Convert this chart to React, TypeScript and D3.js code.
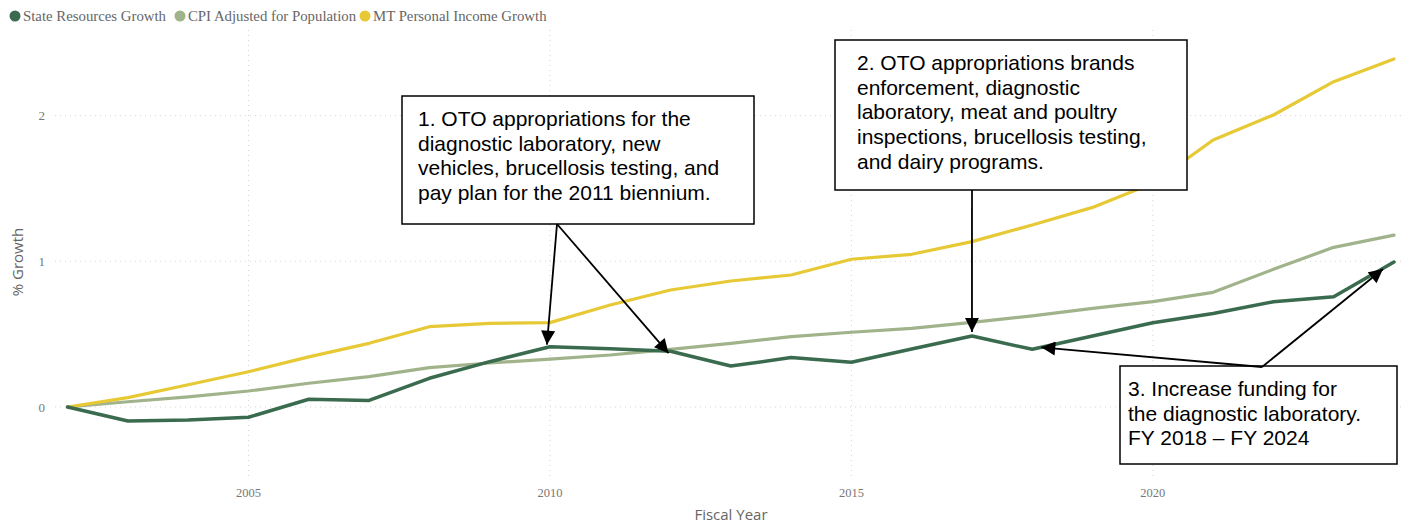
import React from "react";
import * as d3 from "d3";

const years = [2002, 2003, 2004, 2005, 2006, 2007, 2008, 2009, 2010, 2011, 2012, 2013, 2014, 2015, 2016, 2017, 2018, 2019, 2020, 2021, 2022, 2023, 2024];
const stateResources = [0, -0.096, -0.089, -0.07, 0.053, 0.045, 0.197, 0.311, 0.414, 0.40, 0.383, 0.281, 0.339, 0.307, 0.398, 0.487, 0.396, 0.487, 0.578, 0.642, 0.722, 0.757, 0.995];
const cpiAdjusted = [0, 0.036, 0.07, 0.11, 0.163, 0.208, 0.27, 0.302, 0.328, 0.357, 0.396, 0.437, 0.483, 0.513, 0.54, 0.581, 0.625, 0.677, 0.723, 0.787, 0.945, 1.096, 1.18];
const personalIncome = [0, 0.064, 0.153, 0.242, 0.344, 0.437, 0.551, 0.574, 0.579, 0.70, 0.803, 0.865, 0.906, 1.014, 1.048, 1.135, 1.249, 1.37, 1.535, 1.833, 2.004, 2.233, 2.389];

const seriesNames = ["State Resources Growth", "CPI Adjusted for Population", "MT Personal Income Growth"];
const seriesColors = ["#3a6b4f", "#a0b38b", "#e6c935"];
const xTicks = [2005, 2010, 2015, 2020];
const yTicks = [0, 1, 2];

const annotation1 = ["1. OTO appropriations for the", "diagnostic laboratory, new", "vehicles, brucellosis testing, and", "pay plan for the 2011 biennium."];
const annotation2 = ["2. OTO appropriations brands", "enforcement, diagnostic", "laboratory, meat and poultry", "inspections, brucellosis testing,", "and dairy programs."];
const annotation3 = ["3. Increase funding for", "the diagnostic laboratory.", "FY 2018 \u2013 FY 2024"];

export default function App() {
  const W = 1414, H = 525;
  const x = d3.scaleLinear().domain([2002, 2024]).range([67.6, 1394]);
  const y = d3.scaleLinear().domain([0, 2]).range([407, 115.6]);
  const allSeries = [stateResources, cpiAdjusted, personalIncome];
  const line = d3.line<number>().x((_, i) => x(years[i])).y((v) => y(v));

  const pt = (yr: number) => {
    const i = years.indexOf(yr);
    return [x(yr), y(stateResources[i])];
  };

  const boxes = [
    { lines: annotation1, left: 402, top: 96, w: 352, h: 128, pad: 16 },
    { lines: annotation2, left: 835, top: 40, w: 352, h: 150, pad: 22 },
    { lines: annotation3, left: 1120, top: 366, w: 277, h: 98, pad: 8 },
  ];
  const arrows = [
    { from: [557, 224], year: 2010, dx: -3, dy: -2 },
    { from: [557, 224], year: 2012, dx: -2, dy: 2 },
    { from: [972, 190], year: 2017, dx: 0, dy: -4 },
    { from: [1262, 367], year: 2018, dx: 9, dy: -2 },
    { from: [1262, 367], year: 2024, dx: -11, dy: 7 },
  ];

  const tickFont = "'Liberation Serif', 'Times New Roman', serif";
  const titleFont = "'Open Sans', 'DejaVu Sans', sans-serif";
  const boxFont = "'Liberation Sans', Arial, sans-serif";

  const legendX = [15, 180, 365];

  return (
    <svg width={W} height={H} style={{ position: "absolute", left: 0, top: 0, background: "#fff" }}>
      <defs>
        <marker id="ah" viewBox="0 0 10 10" refX="10" refY="5" markerWidth="15" markerHeight="14" markerUnits="userSpaceOnUse" orient="auto">
          <path d="M0,0 L10,5 L0,10 z" fill="#000" />
        </marker>
      </defs>
      {/* legend */}
      {seriesNames.map((n, i) => (
        <g key={n}>
          <circle cx={legendX[i]} cy={16} r={5.5} fill={seriesColors[i]} />
          <text x={legendX[i] + 8} y={21} fontFamily={tickFont} fontSize={14.8} fill="#666">{n}</text>
        </g>
      ))}
      {/* grid */}
      {yTicks.map((t) => (
        <g key={"y" + t}>
          <line x1={55} x2={1403} y1={y(t)} y2={y(t)} stroke="#d6d6d6" strokeWidth={1} strokeDasharray="1,4" />
          <text x={45} y={y(t) + 4.5} textAnchor="end" fontFamily={tickFont} fontSize={13} fill="#777">{t}</text>
        </g>
      ))}
      {xTicks.map((t) => (
        <g key={"x" + t}>
          <line x1={x(t)} x2={x(t)} y1={30} y2={478} stroke="#d6d6d6" strokeWidth={1} strokeDasharray="1,4" />
          <text x={x(t)} y={497} textAnchor="middle" fontFamily={tickFont} fontSize={12.5} fill="#777">{t}</text>
        </g>
      ))}
      <text transform={`translate(23,262) rotate(-90)`} textAnchor="middle" fontFamily={titleFont} fontSize={15} fill="#666">% Growth</text>
      <text x={731} y={520} textAnchor="middle" fontFamily={titleFont} fontSize={15} fill="#666">Fiscal Year</text>
      {/* lines */}
      {[1, 2, 0].map((i) => (
        <path key={i} d={line(allSeries[i]) || ""} fill="none" stroke={seriesColors[i]} strokeWidth={i === 0 ? 3.5 : 3.2} strokeLinejoin="round" strokeLinecap="round" />
      ))}
      {/* annotation boxes */}
      {boxes.map((b, bi) => (
        <g key={"b" + bi}>
          <rect x={b.left} y={b.top} width={b.w} height={b.h} fill="#fff" stroke="#000" strokeWidth={1.5} />
          {b.lines.map((l, li) => (
            <text key={li} x={b.left + b.pad} y={b.top + 30 + li * 24.7} fontFamily={boxFont} fontSize={21} fill="#000">{l}</text>
          ))}
        </g>
      ))}
      {arrows.map((a, ai) => {
        const [tx, ty] = pt(a.year);
        return (
          <line key={"a" + ai} x1={a.from[0]} y1={a.from[1]} x2={tx + a.dx} y2={ty + a.dy} stroke="#000" strokeWidth={1.8} markerEnd="url(#ah)" />
        );
      })}
    </svg>
  );
}
